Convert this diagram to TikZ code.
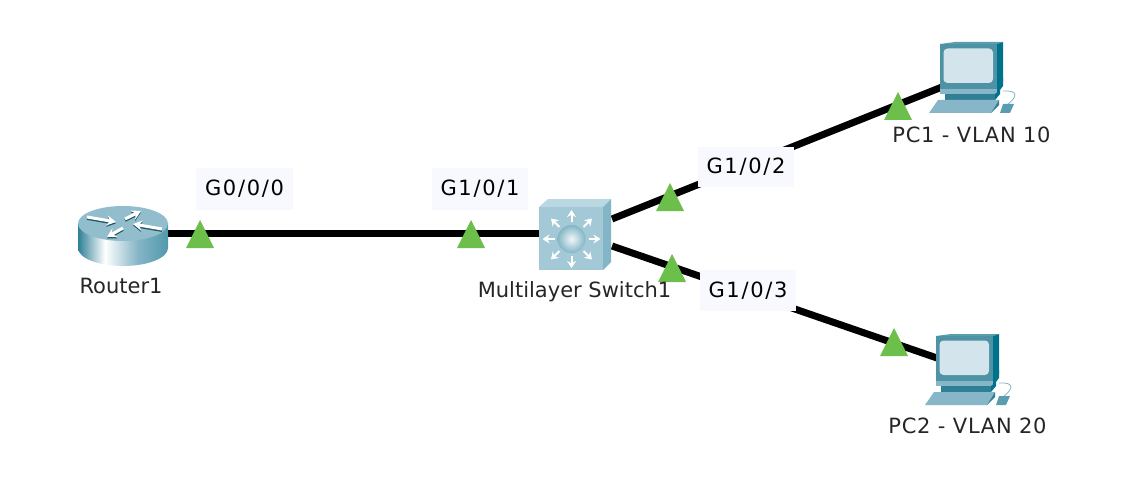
\documentclass[tikz,border=0pt]{standalone}
\usepackage{fontspec}
\setmainfont{DejaVu Sans}
\usetikzlibrary{arrows.meta}
\definecolor{lbl}{HTML}{F8F9FF}
\definecolor{tri}{HTML}{6CBF4B}
\definecolor{txt}{HTML}{262626}
\definecolor{teal}{HTML}{2F7F95}
\definecolor{deep}{HTML}{00728C}
\definecolor{mid}{HTML}{5A9DB0}
\definecolor{pale}{HTML}{86B6C7}
\definecolor{scr}{HTML}{D3E4EC}
\definecolor{swf}{HTML}{A3C8D6}
\definecolor{swt}{HTML}{BAD8E2}
\definecolor{sws}{HTML}{82B5C5}
\pgfdeclarehorizontalshading{routerside}{100bp}{
 color(0bp)=(teal); color(25bp)=(teal); color(40bp)=(white); color(58bp)=(pale); color(72bp)=(mid); color(100bp)=(deep)}
\tikzset{
 link/.style={line width=7pt,black},
 portlabel/.style={fill=lbl,text=black,inner sep=0pt,minimum width=96pt,minimum height=41pt,font=\fontsize{21}{24}\selectfont\addfontfeature{LetterSpace=8}},
 devlabel/.style={text=txt,inner sep=0pt,font=\fontsize{21}{24}\selectfont},
 pclabel/.style={devlabel,font=\fontsize{21}{24}\selectfont\addfontfeature{LetterSpace=3.5}},
 anchorbox/.style={inner sep=0pt,outer sep=0pt},
 ar/.style={white,line width=3pt,-{Stealth[length=9pt,width=10pt]}},
 ard/.style={teal!70!black,line width=3pt,-{Stealth[length=9pt,width=10pt]}},
 swar/.style={white,line width=2pt,-{Stealth[length=7pt,width=9pt]}},
 pics/lamp/.style={code={\fill[tri] (0,0) -- (14,28) -- (-14,28) -- cycle;}},
 pics/pcicon/.style={code={
  % monitor
  \fill[mid] (0,0) -- (15,-2) -- (63,-2) -- (57,0) -- cycle;
  \fill[deep] (57,0) -- (63,-2) -- (63,37) -- (57,45) -- cycle;
  \fill[teal!85!white] (0,0) rectangle (57,45);
  \fill[scr,rounded corners=4pt] (3.5,4.5) rectangle (53,39);
  % base tier
  \fill[deep] (57,40) -- (63,34) -- (63,42) -- (57,50) -- cycle;
  \fill[pale] (0,45) -- (57,45) -- (57,50) -- (0,50) -- cycle;
  \fill[teal] (5,50) rectangle (55,56);
  \fill[deep] (55,56) -- (60,50) -- (60,46) -- (55,50) -- cycle;
  % keyboard
  \fill[pale] (-11,69) -- (-2,56) -- (59,56) -- (51,69) -- cycle;
  \fill[teal] (51,69) -- (59,56) -- (59,61) -- (51,69) -- cycle;
  % mouse
  \draw[pale,line width=0.8pt] (68,60) .. controls (76,54) and (80,46) .. (63,47);
  \fill[mid] (60,69) -- (63,60) -- (74,60) -- (70,69) -- cycle;
 }}
}
\begin{document}
\begin{tikzpicture}[x=1pt,y=-1pt]
\useasboundingbox (0,0) rectangle (1148,500);
\fill[white] (0,0) rectangle (1148,500);
% anchor nodes
\node[anchorbox,minimum width=90pt,minimum height=20pt] (router) at (123,233) {};
\node[anchorbox,minimum width=72pt,minimum height=72pt] (sw) at (575,233) {};
\coordinate (swa) at (612,219);
\coordinate (swb) at (612,246);
\coordinate (pc1p) at (942,87);
\coordinate (pc2p) at (937,358);
% links
\draw[link] (router.east) -- (sw.west);
\draw[link] (swa) -- (pc1p);
\draw[link] (swb) -- (pc2p);
% port labels
\node[portlabel,minimum width=97pt,minimum height=42pt] (l0) at (244.5,189) {G0/0/0};
\node[portlabel,minimum height=42pt] (l1) at (480,189) {G1/0/1};
\node[portlabel,minimum height=40pt] (l2) at (746,167) {G1/0/2};
\node[portlabel] (l3) at (748,290.5) {G1/0/3};
% lamps
\pic at (200,220) {lamp};
\pic at (471,220) {lamp};
\pic at (670,183) {lamp};
\pic at (672,254) {lamp};
\pic at (898,92) {lamp};
\pic at (894,328) {lamp};
% router icon
\shade[shading=routerside] (78,223) -- (78,248) arc[start angle=180,end angle=360,x radius=45pt,y radius=18pt] -- (168,223) -- cycle;
\fill[pale!90!white] (123,223.5) ellipse [x radius=45pt,y radius=17.5pt];
\begin{scope}[yshift=-1.4pt]
\draw[ard] (87,217) -- (116,222);
\draw[ard] (162,229) -- (133,224);
\draw[ard] (125,219) -- (141,211);
\draw[ard] (123,228) -- (107,237);
\end{scope}
\draw[ar] (87,217) -- (116,222);
\draw[ar] (162,229) -- (133,224);
\draw[ar] (125,219) -- (141,211);
\draw[ar] (123,228) -- (107,237);
% switch icon
\fill[swt] (539,207) -- (548,199) -- (611,199) -- (603,207) -- cycle;
\fill[sws] (603,207) -- (611,199) -- (611,262) -- (603,270) -- cycle;
\fill[swf] (539,207) rectangle (603,270);
\foreach \a in {0,45,...,315}{
 \draw[swar] (571.5,239) ++(\a:17pt) -- ++(\a:12pt);
}
\shade[inner color=white!85!swf,outer color=sws] (571.5,239) circle [radius=14pt];
% PCs
\pic at (940,44) {pcicon};
\pic at (936,336) {pcicon};
% device labels
\node[devlabel] (t1) at (121,286) {Router1};
\node[devlabel] (t2) at (574.5,292) {Multilayer Switch1};
\node[pclabel] (t3) at (971.5,135) {PC1 - VLAN 10};
\node[pclabel] (t4) at (967.5,426) {PC2 - VLAN 20};
\end{tikzpicture}
\end{document}
